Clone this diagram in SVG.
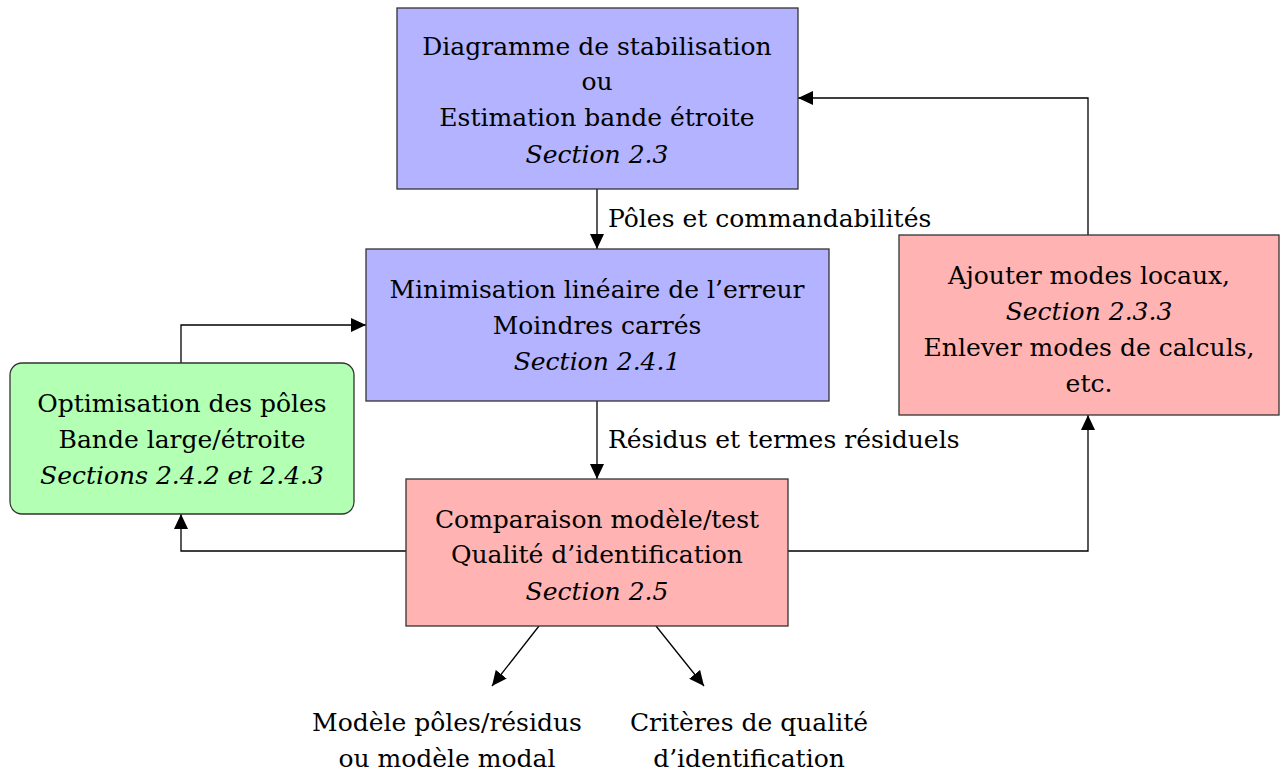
<svg xmlns="http://www.w3.org/2000/svg" width="1282" height="776" viewBox="0 0 1282 776" font-family="'DejaVu Serif', serif">
<style>
text{font-family:'DejaVu Serif',serif;font-size:25px;fill:#000;text-anchor:middle}
.it{font-style:italic}
.lbl{text-anchor:start}
.box{stroke:#333;stroke-width:1.3}
.blue{fill:#b3b3ff}.red{fill:#ffb3b3}.green{fill:#b3ffb3}
.c{fill:none;stroke:#000;stroke-width:1.3}
</style>
<defs>
<marker id="ah" viewBox="0 0 15 14" refX="15" refY="7" markerWidth="15" markerHeight="14" markerUnits="userSpaceOnUse" orient="auto">
<path d="M0,0 L15,7 L0,14 Z" fill="#000"/>
</marker>
</defs>
<g id="connectors">
<path class="c" d="M597,189 V249" marker-end="url(#ah)"/>
<path class="c" d="M597,401 V479" marker-end="url(#ah)"/>
<path class="c" d="M406,551 H181 V514" marker-end="url(#ah)"/>
<path class="c" d="M181,363 V325 H366" marker-end="url(#ah)"/>
<path class="c" d="M788,551 H1088 V415" marker-end="url(#ah)"/>
<path class="c" d="M1088,235 V98 H798" marker-end="url(#ah)"/>
<path class="c" d="M539,626 L492,686" marker-end="url(#ah)"/>
<path class="c" d="M656,626 L704,686" marker-end="url(#ah)"/>
<text class="lbl" x="608" y="227">Pôles et commandabilités</text>
<text class="lbl" x="608" y="448">Résidus et termes résiduels</text>
</g>
<g id="n1">
<rect class="box blue" x="397" y="8" width="401" height="181"/>
<text x="597" y="55">Diagramme de stabilisation</text>
<text x="597" y="90">ou</text>
<text x="597" y="126">Estimation bande étroite</text>
<text class="it" x="597" y="163">Section 2.3</text>
</g>
<g id="n2">
<rect class="box blue" x="366" y="249" width="463" height="152"/>
<text x="597" y="298">Minimisation linéaire de l’erreur</text>
<text x="597" y="334">Moindres carrés</text>
<text class="it" x="597" y="370">Section 2.4.1</text>
</g>
<g id="n3">
<rect class="box green" x="10" y="363" width="344" height="151" rx="12"/>
<text x="182" y="412">Optimisation des pôles</text>
<text x="182" y="448">Bande large/étroite</text>
<text class="it" x="182" y="484">Sections 2.4.2 et 2.4.3</text>
</g>
<g id="n4">
<rect class="box red" x="406" y="479" width="382" height="147"/>
<text x="597" y="528">Comparaison modèle/test</text>
<text x="597" y="563">Qualité d’identification</text>
<text class="it" x="597" y="600">Section 2.5</text>
</g>
<g id="n5">
<rect class="box red" x="899" y="235" width="380" height="180"/>
<text x="1089" y="284">Ajouter modes locaux,</text>
<text class="it" x="1089" y="320">Section 2.3.3</text>
<text x="1089" y="356">Enlever modes de calculs,</text>
<text x="1089" y="392">etc.</text>
</g>
<g id="n6">
<text x="447" y="731">Modèle pôles/résidus</text>
<text x="447" y="767">ou modèle modal</text>
</g>
<g id="n7">
<text x="749" y="731">Critères de qualité</text>
<text x="749" y="767">d’identification</text>
</g>
</svg>
